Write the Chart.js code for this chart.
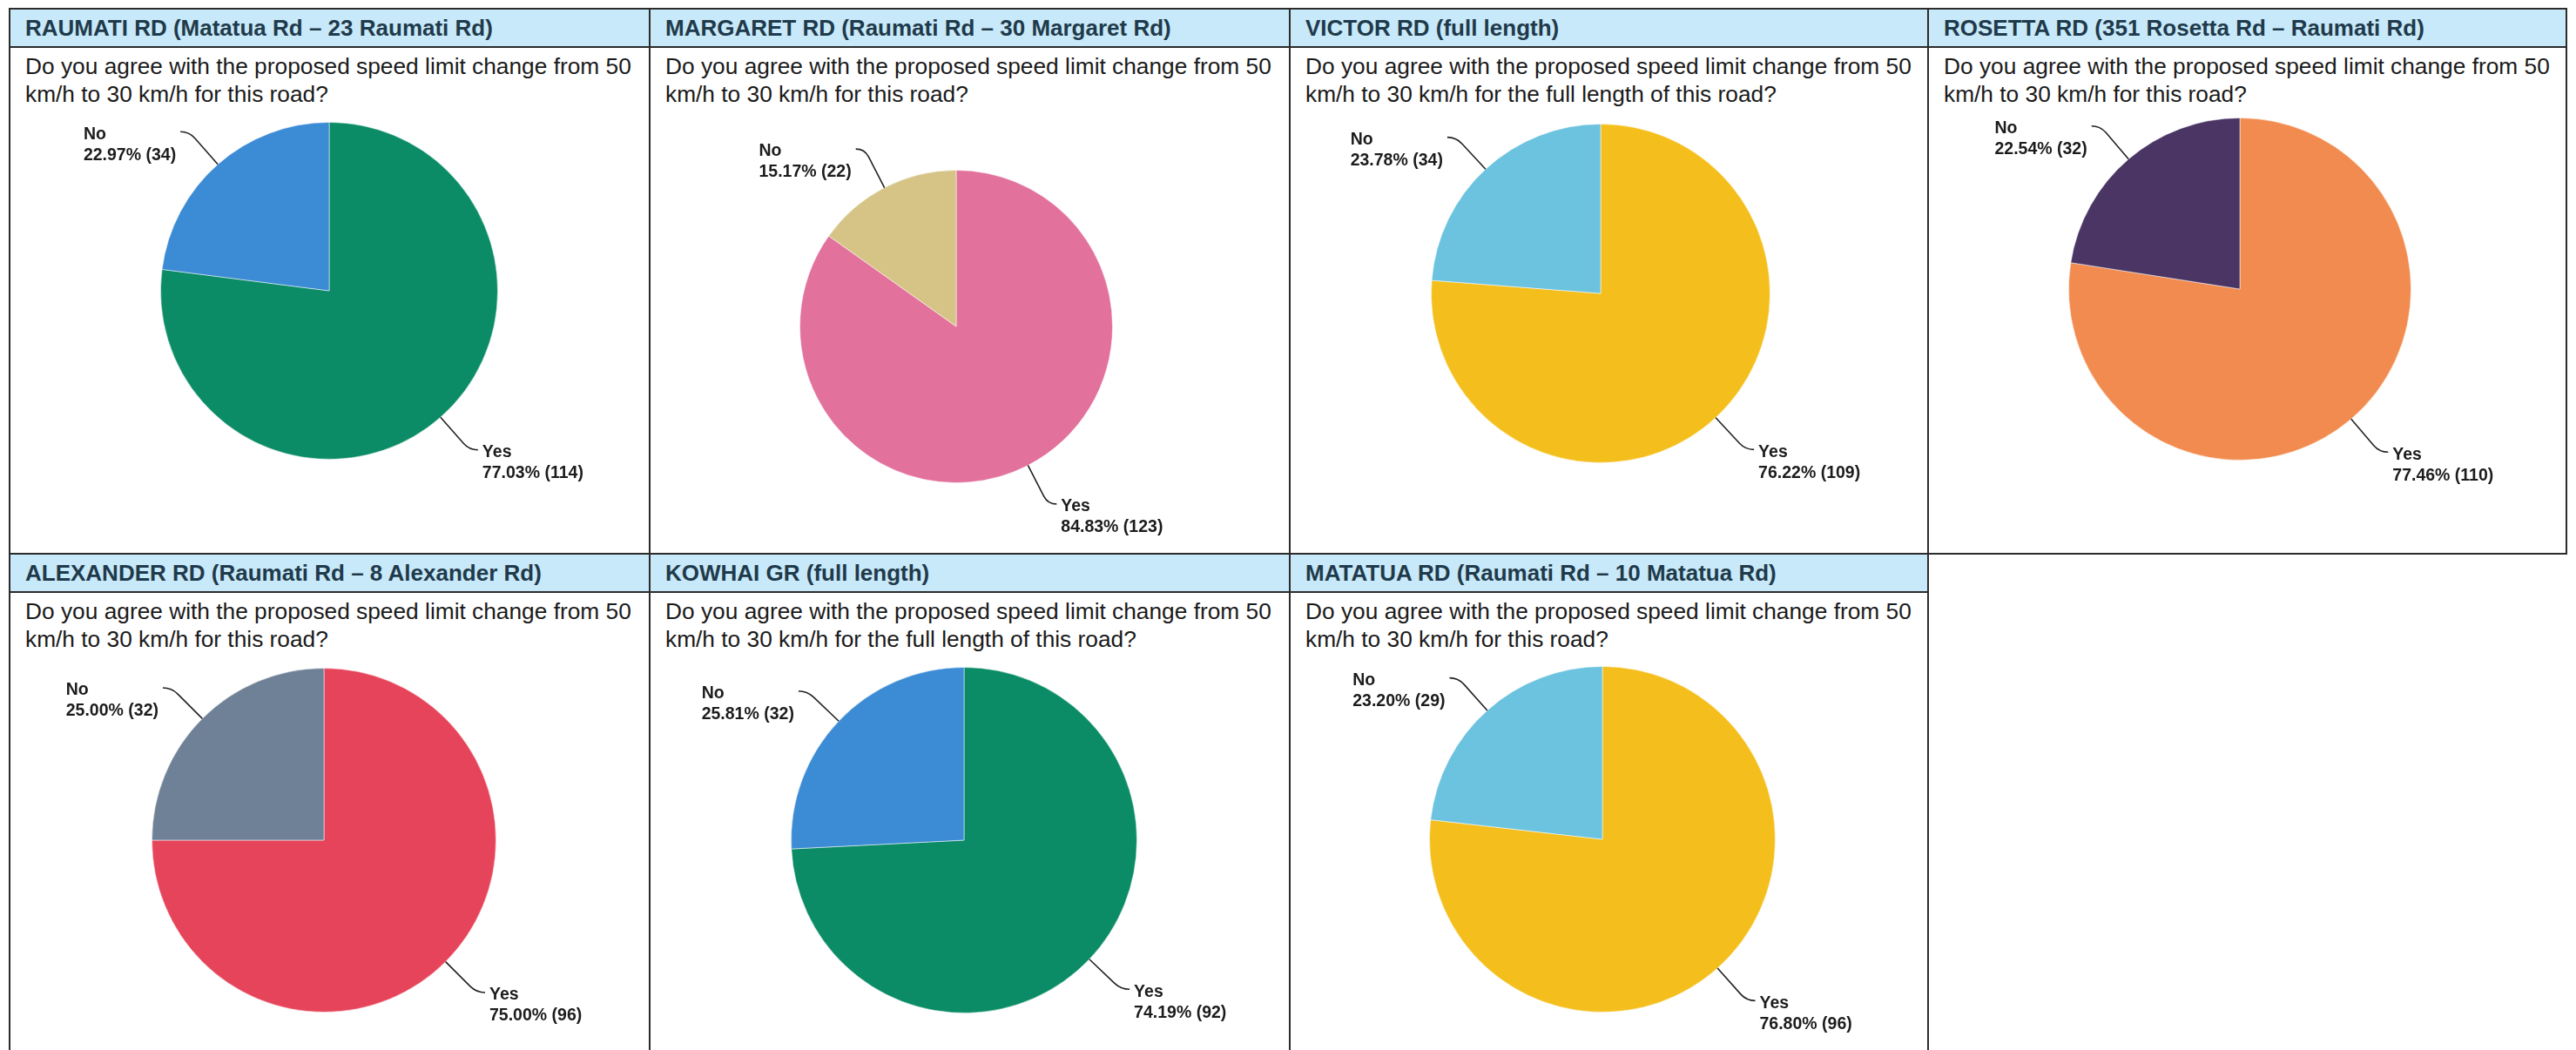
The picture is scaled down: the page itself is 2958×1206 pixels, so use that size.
<!DOCTYPE html>
<html lang="en">
<head>
    <meta charset="UTF-8">
    <title>Speed limit survey results</title>
    <style>
        body {
            margin: 0;
            background: #fff;
            font-family: "Liberation Sans", Arial, sans-serif;
        }

        #page {
            position: relative;
            width: 2958px;
            height: 1206px;
            overflow: hidden;
            background: #fff;
        }

        .panel {
            position: absolute;
            box-sizing: border-box;
            border: 2px solid #2b2b2b;
            background: #fff;
        }

        .panel .head {
            height: 42px;
            line-height: 42px;
            background: #c8e9f9;
            border-bottom: 2px solid #2b2b2b;
            color: #1f3a4b;
            font-weight: bold;
            font-size: 26px;
            padding-left: 17px;
            white-space: nowrap;
        }

        .panel .question {
            font-size: 26.3px;
            line-height: 32px;
            color: #1a1a1a;
            padding: 5px 0 0 17px;
            white-space: nowrap;
        }

        canvas.pie {
            position: absolute;
        }
    </style>
    <script src="https://cdn.jsdelivr.net/npm/chart.js"></script>
</head>
<body>
<div id="page"></div>

<script>
    // survey data, one entry per road
    const roads = [
        'RAUMATI RD (Matatua Rd – 23 Raumati Rd)',
        'MARGARET RD (Raumati Rd – 30 Margaret Rd)',
        'VICTOR RD (full length)',
        'ROSETTA RD (351 Rosetta Rd – Raumati Rd)',
        'ALEXANDER RD (Raumati Rd – 8 Alexander Rd)',
        'KOWHAI GR (full length)',
        'MATATUA RD (Raumati Rd – 10 Matatua Rd)'
    ];
    const qShort = ['Do you agree with the proposed speed limit change from 50', 'km/h to 30 km/h for this road?'];
    const qFull = ['Do you agree with the proposed speed limit change from 50', 'km/h to 30 km/h for the full length of this road?'];
    const questions = [qShort, qShort, qFull, qShort, qShort, qFull, qShort];
    const answers = ['Yes', 'No'];
    const yesCounts = [114, 123, 109, 110, 96, 92, 96];
    const noCounts = [34, 22, 34, 32, 32, 32, 29];

    // colours
    const yesColors = ['#0b8c66', '#e2719c', '#f4bf1d', '#f28b4f', '#e6445a', '#0b8c66', '#f4bf1d'];
    const noColors = ['#3b8bd5', '#d6c487', '#6cc3e0', '#4a3565', '#6f8197', '#3b8bd5', '#6cc3e0'];

    // layout
    const colX = [10, 745, 1480, 2213, 2946];
    const rowY = [9, 635];
    const canvasTop = 118;
    const canvasH = 500;
    // pie centre / radius inside each panel
    const pieBox = [
        { cx: 368, cy: 325, r: 194 },
        { cx: 353, cy: 366, r: 180 },
        { cx: 358, cy: 328, r: 195 },
        { cx: 359, cy: 323, r: 197 },
        { cx: 362, cy: 330, r: 198 },
        { cx: 362, cy: 330, r: 199 },
        { cx: 360, cy: 329, r: 199 }
    ];

    const leaderLabels = {
        id: 'leaderLabels',
        afterDatasetsDraw(chart) {
            const ctx = chart.ctx;
            const values = chart.data.datasets[0].data;
            const total = values.reduce((a, b) => a + b, 0);
            chart.getDatasetMeta(0).data.forEach((arc, i) => {
                const p = arc.getProps(['x', 'y', 'startAngle', 'endAngle', 'outerRadius'], true);
                const mid = (p.startAngle + p.endAngle) / 2;
                const dx = Math.cos(mid), dy = Math.sin(mid);
                const ex = p.x + dx * p.outerRadius, ey = p.y + dy * p.outerRadius;
                const ox = p.x + dx * (p.outerRadius + 50), oy = p.y + dy * (p.outerRadius + 50);
                const side = dx < 0 ? -1 : 1;
                const hx = ox + side * 10;

                ctx.save();
                ctx.strokeStyle = '#222';
                ctx.lineWidth = 1.6;
                ctx.beginPath();
                ctx.moveTo(ex, ey);
                ctx.lineTo(p.x + dx * (p.outerRadius + 40), p.y + dy * (p.outerRadius + 40));
                ctx.quadraticCurveTo(ox, oy, hx, oy);
                ctx.stroke();

                const lines = [chart.data.labels[i], (values[i] / total * 100).toFixed(2) + '% (' + values[i] + ')'];
                ctx.font = 'bold 19.5px "Liberation Sans", Arial, sans-serif';
                ctx.fillStyle = '#1c1c1c';
                ctx.textAlign = 'left';
                ctx.textBaseline = 'middle';
                const w = Math.max(...lines.map(t => ctx.measureText(t).width));
                const tx = side > 0 ? hx + 5 : hx - 5 - w;
                lines.forEach((t, k) => ctx.fillText(t, tx, oy + 3 + k * 24));
                ctx.restore();
            });
        }
    };

    const page = document.getElementById('page');

    roads.forEach((road, i) => {
        const col = i % 4;
        const row = Math.floor(i / 4);
        const left = colX[col];
        const top = rowY[row];
        const width = colX[col + 1] - left + 2;

        const panel = document.createElement('div');
        panel.className = 'panel';
        panel.style.left = left + 'px';
        panel.style.top = top + 'px';
        panel.style.width = width + 'px';
        panel.style.height = (row === 0 ? rowY[1] - top + 2 : 700) + 'px';

        const head = document.createElement('div');
        head.className = 'head';
        head.textContent = road;
        panel.appendChild(head);

        const q = document.createElement('div');
        q.className = 'question';
        q.innerHTML = questions[i].join('<br>');
        panel.appendChild(q);
        page.appendChild(panel);

        const canvas = document.createElement('canvas');
        canvas.className = 'pie';
        canvas.width = width;
        canvas.height = canvasH;
        canvas.style.left = left + 'px';
        canvas.style.top = (top + canvasTop) + 'px';
        page.appendChild(canvas);

        const b = pieBox[i];
        const cy = b.cy - canvasTop;
        new Chart(canvas.getContext('2d'), {
            type: 'pie',
            data: {
                labels: answers,
                datasets: [{
                    data: [yesCounts[i], noCounts[i]],
                    backgroundColor: [yesColors[i], noColors[i]],
                    borderColor: 'rgba(255, 255, 255, 0.5)',
                    borderWidth: 1,
                    hoverOffset: 0
                }]
            },
            options: {
                responsive: false,
                animation: false,
                layout: {
                    padding: {
                        left: b.cx - b.r,
                        right: width - b.cx - b.r,
                        top: cy - b.r,
                        bottom: canvasH - cy - b.r
                    }
                },
                plugins: {
                    legend: { display: false },
                    tooltip: { enabled: false }
                }
            },
            plugins: [leaderLabels]
        });
    });
</script>
</body>
</html>
